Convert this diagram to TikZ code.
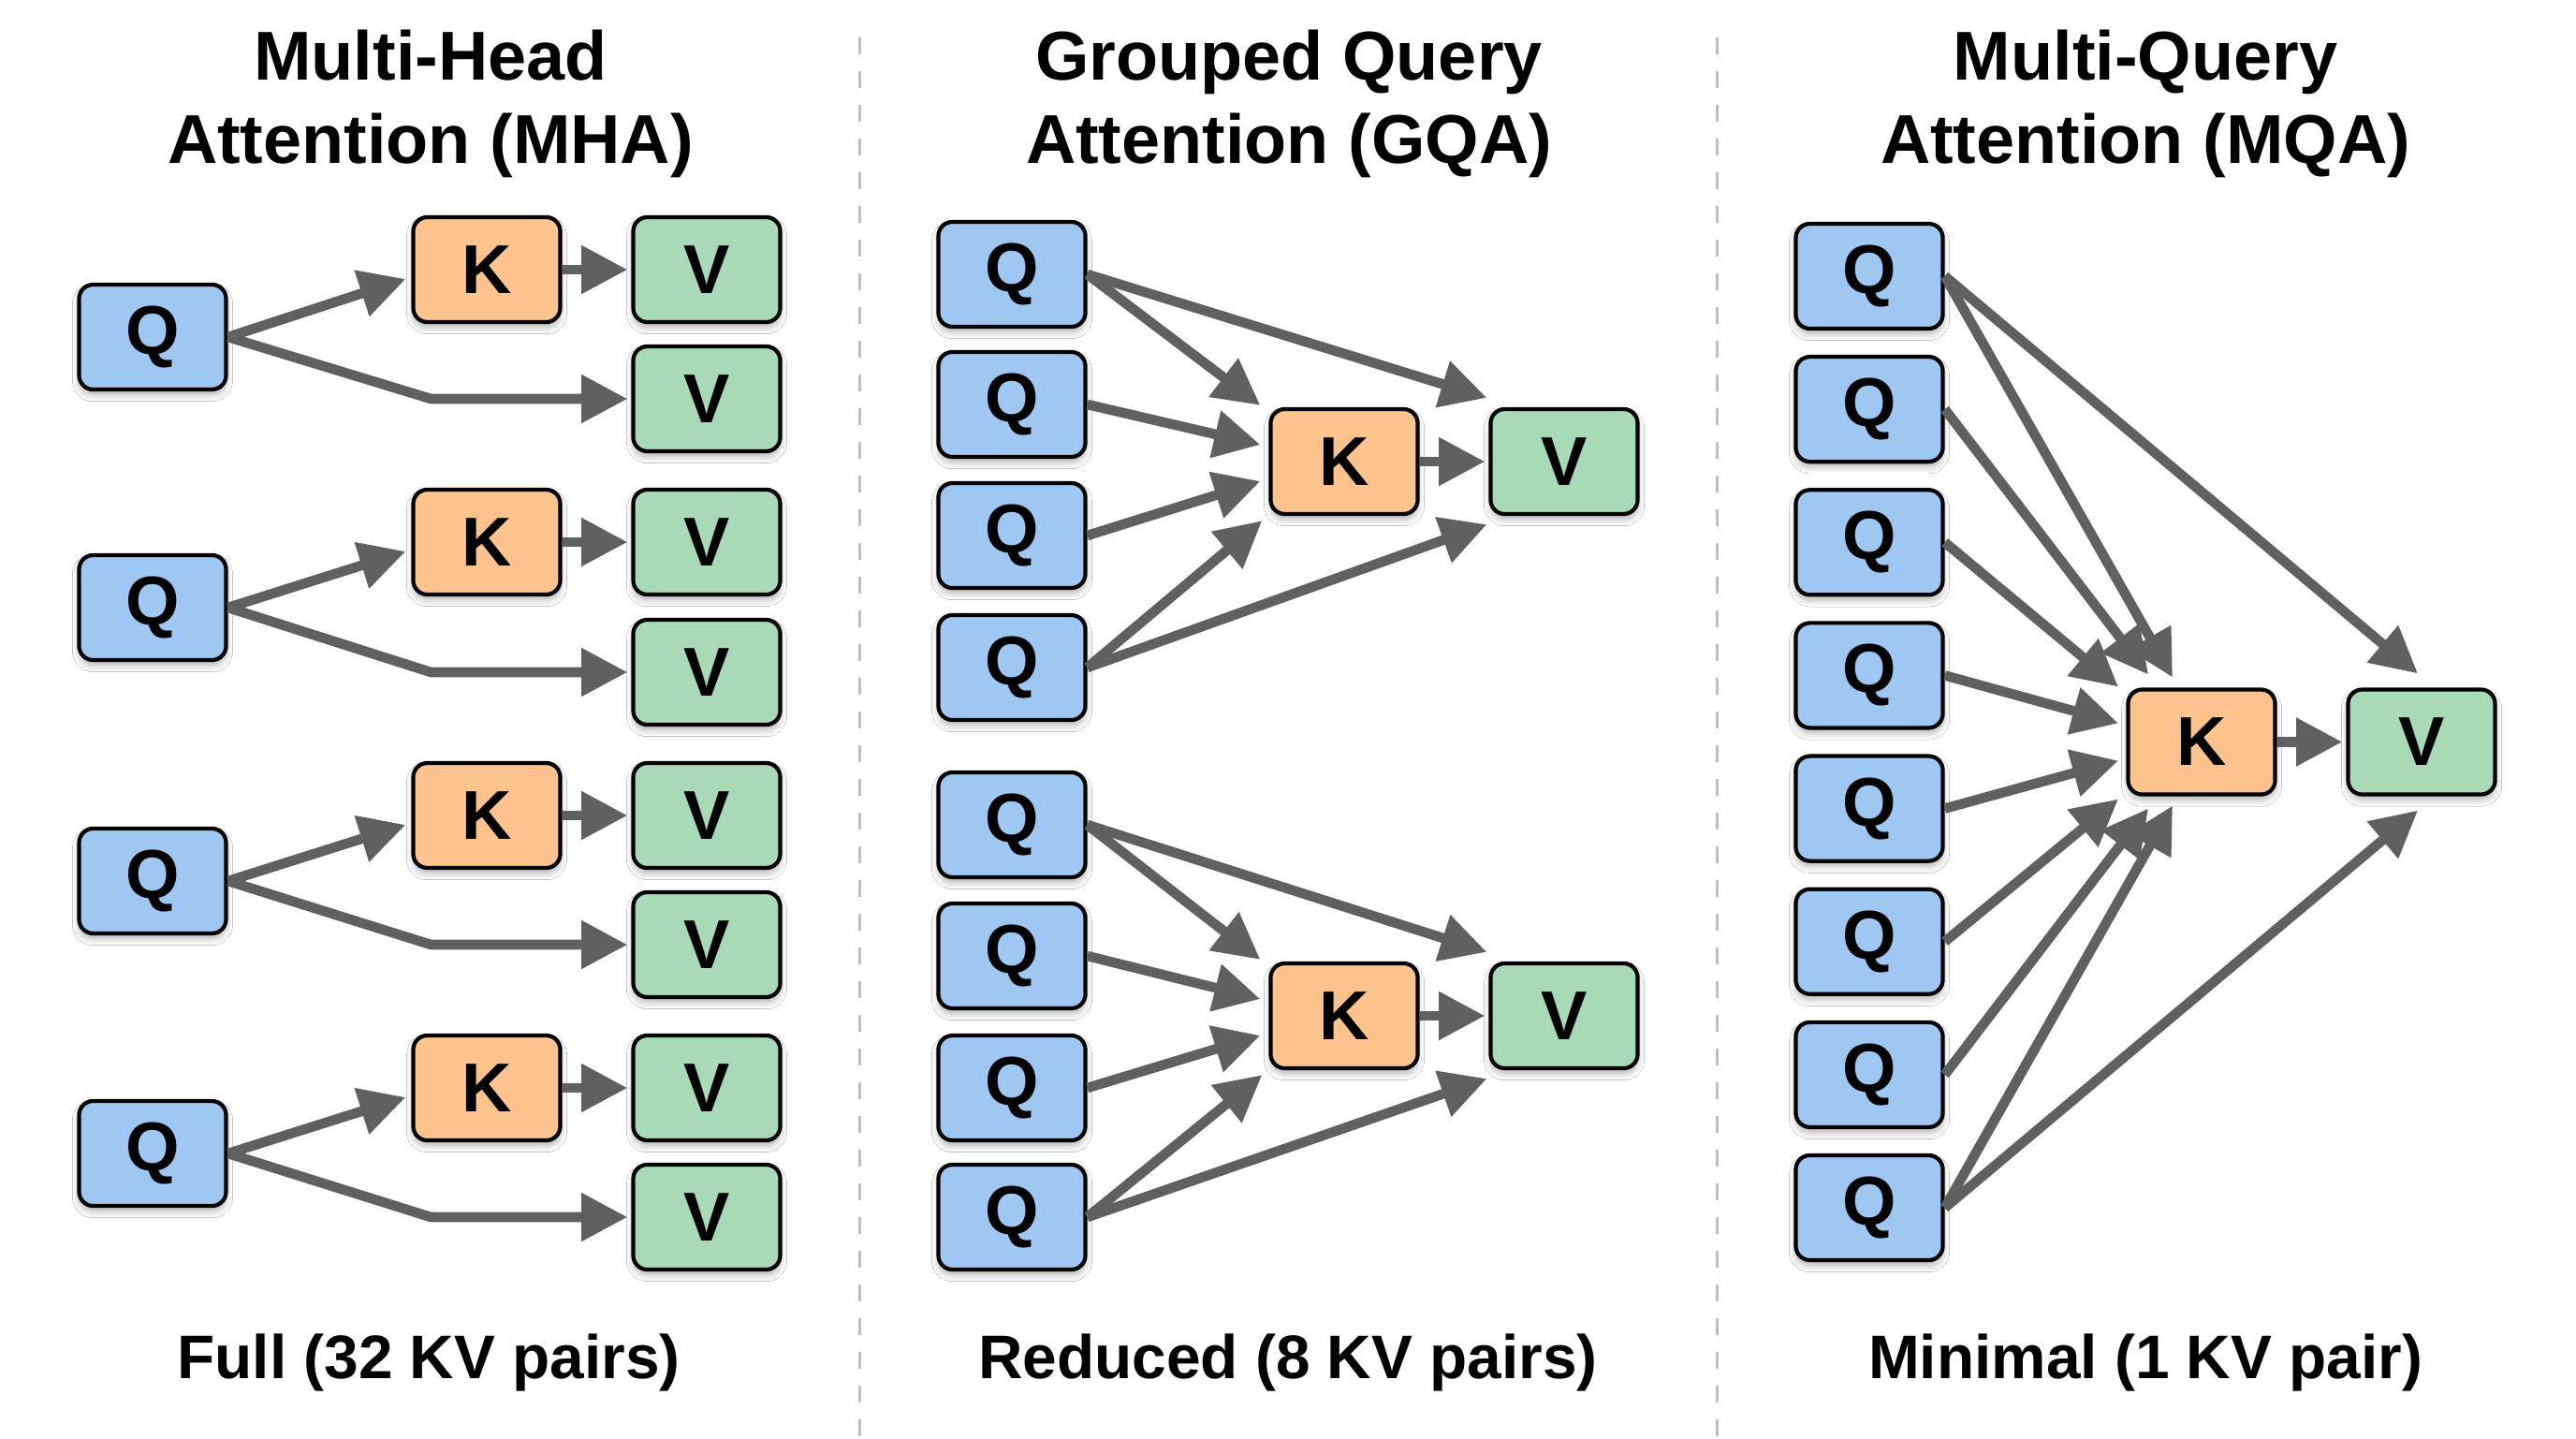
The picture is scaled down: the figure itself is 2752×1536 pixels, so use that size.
\documentclass[tikz,border=0pt]{standalone}
\usepackage{fontspec}
\setmainfont{Liberation Sans}
\usetikzlibrary{arrows.meta,calc,shadows.blur}
\definecolor{qfill}{RGB}{158,199,242}
\definecolor{kfill}{RGB}{252,196,140}
\definecolor{vfill}{RGB}{168,218,184}
\definecolor{arrgray}{RGB}{96,96,96}
\definecolor{sepgray}{RGB}{190,190,190}
\tikzset{
  basebox/.style={draw=black, line width=1.2pt, rounded corners=4.3pt,
    minimum width=1.57cm, minimum height=1.12cm, inner sep=0pt,
    font=\fontsize{21}{25}\selectfont\bfseries,
    blur shadow={shadow blur steps=6, shadow xshift=0pt, shadow yshift=-1.6pt,
      shadow blur radius=2pt, shadow opacity=30}},
  qbox/.style={basebox, fill=qfill},
  kbox/.style={basebox, fill=kfill},
  valbox/.style={basebox, fill=vfill},
  arr/.style={draw=arrgray, line width=3pt, -{Triangle[length=14pt,width=14pt]}},
  ttl/.style={anchor=base, font=\fontsize{21}{25}\selectfont\bfseries, inner sep=0pt},
  captxt/.style={anchor=base, font=\fontsize{18.7}{22}\selectfont\bfseries, inner sep=0pt},
  sepline/.style={draw=sepgray, line width=0.85pt, dash pattern=on 5.12pt off 5.12pt}
}
\begin{document}
\begin{tikzpicture}[x=0.01cm,y=-0.01cm]
\useasboundingbox (0,0) rectangle (2752,1536);
\fill[white] (0,0) rectangle (2752,1536);

% separators
\coordinate (s1a) at (918,40); \coordinate (s1b) at (918,1536);
\coordinate (s2a) at (1834,40); \coordinate (s2b) at (1834,1536);
\draw[sepline] (s1a) -- (s1b);
\draw[sepline] (s2a) -- (s2b);

% titles
\node[ttl] (t1a) at (460,85) {Multi-Head};
\node[ttl] (t1b) at (460,174) {Attention (MHA)};
\node[ttl] (t2a) at (1377,85) {Grouped Query};
\node[ttl] (t2b) at (1377,174) {Attention (GQA)};
\node[ttl] (t3a) at (2292,85) {Multi-Query};
\node[ttl] (t3b) at (2292,174) {Attention (MQA)};

% captions
\node[captxt] (c1) at (458,1472) {Full (32 KV pairs)};
\node[captxt] (c2) at (1376,1472) {Reduced (8 KV pairs)};
\node[captxt] (c3) at (2292,1472) {Minimal (1 KV pair)};

% ---------------- MHA ----------------
\foreach \i/\qy/\ky/\vy in {1/360/288/426, 2/649/579/718, 3/941/871/1009, 4/1232/1162/1300}{
  \node[qbox] (mq\i) at (163,\qy) {Q};
  \node[kbox] (mk\i) at (520,\ky) {K};
  \node[valbox] (mva\i) at (755,\ky) {V};
  \node[valbox] (mvb\i) at (755,\vy) {V};
  \draw[arr] (mq\i.east) -- ($(mk\i.west)+(-6,10)$);
  \draw[arr] (mq\i.east) -- ($(mvb\i.west)+(-214,0)$) -- ($(mvb\i.west)+(-4,0)$);
  \draw[arr] (mk\i.east) -- ($(mva\i.west)+(-4,0)$);
}

% ---------------- GQA ----------------
\node[qbox] (gq1) at (1081,293) {Q};
\node[qbox] (gq2) at (1081,432) {Q};
\node[qbox] (gq3) at (1081,572) {Q};
\node[qbox] (gq4) at (1081,713) {Q};
\node[qbox] (gq5) at (1081,881) {Q};
\node[qbox] (gq6) at (1081,1021) {Q};
\node[qbox] (gq7) at (1081,1162) {Q};
\node[qbox] (gq8) at (1081,1300) {Q};
\node[kbox] (gk1) at (1436,493) {K};
\node[valbox] (gv1) at (1671,493) {V};
\node[kbox] (gk2) at (1436,1085) {K};
\node[valbox] (gv2) at (1671,1085) {V};

\foreach \a/\b/\c/\d/\k/\v in {1/2/3/4/gk1/gv1, 5/6/7/8/gk2/gv2}{
  \draw[arr] (gq\a.east) -- ($(\k.north west)+(-9,-2)$);
  \draw[arr] (gq\a.east) -- ($(\v.north west)+(-2,-10)$);
  \draw[arr] (gq\b.east) -- ($(\k.west)+(-9,-18)$);
  \draw[arr] (gq\c.east) -- ($(\k.west)+(-9,21)$);
  \draw[arr] (gq\d.east) -- ($(\k.south west)+(-7,5)$);
  \draw[arr] (gq\d.east) -- ($(\v.south west)+(-2,9)$);
  \draw[arr] (\k.east) -- ($(\v.west)+(-4,0)$);
}

% ---------------- MQA ----------------
\node[qbox] (qq1) at (1997,295) {Q};
\node[qbox] (qq2) at (1997,437.1) {Q};
\node[qbox] (qq3) at (1997,579.3) {Q};
\node[qbox] (qq4) at (1997,721.4) {Q};
\node[qbox] (qq5) at (1997,863.6) {Q};
\node[qbox] (qq6) at (1997,1005.7) {Q};
\node[qbox] (qq7) at (1997,1147.9) {Q};
\node[qbox] (qq8) at (1997,1290) {Q};
\node[kbox] (qk) at (2352,792.5) {K};
\node[valbox] (qv) at (2587,792.5) {V};

\draw[arr] (qq1.east) -- ($(qk.center)+(-31,-69)$);
\draw[arr] (qq1.east) -- ($(qv.north)+(-4,-15)$);
\draw[arr] (qq2.east) -- ($(qk.center)+(-57,-72)$);
\draw[arr] (qq3.east) -- ($(qk.center)+(-89,-59)$);
\draw[arr] (qq4.east) -- ($(qk.center)+(-89,-20)$);
\draw[arr] (qq5.east) -- ($(qk.center)+(-89,20)$);
\draw[arr] (qq6.east) -- ($(qk.center)+(-89,61)$);
\draw[arr] (qq7.east) -- ($(qk.center)+(-57,71)$);
\draw[arr] (qq8.east) -- ($(qk.center)+(-31,68)$);
\draw[arr] (qq8.east) -- ($(qv.south)+(-4,15)$);
\draw[arr] (qk.east) -- ($(qv.west)+(-4,0)$);
\end{tikzpicture}
\end{document}
